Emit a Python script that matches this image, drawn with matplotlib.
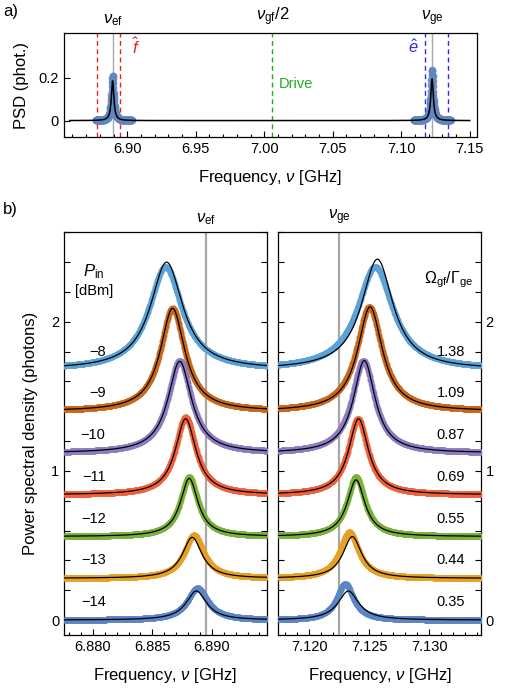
import numpy as np
import matplotlib
matplotlib.use("Agg")
import matplotlib.pyplot as plt
from matplotlib.ticker import MultipleLocator, FuncFormatter

plt.rcParams["font.family"] = ["Liberation Sans", "DejaVu Sans"]
plt.rcParams["mathtext.fontset"] = "custom"
plt.rcParams["mathtext.rm"] = "Liberation Sans"
plt.rcParams["mathtext.it"] = "Liberation Sans:italic"
plt.rcParams["mathtext.bf"] = "Liberation Sans:bold"
plt.rcParams["axes.linewidth"] = 0.9

# --- panel a) overview ---
nu_ef = 6.8895
nu_ge = 7.1225
nu_drive = 7.006
ef_window = [6.8776, 6.8946]
ge_window = [7.1174, 7.1343]
ov_centers = [6.8893, 7.1225]
ov_data_lo = [6.8771, 7.1092]
ov_data_hi = [6.9032, 7.1360]
ov_data_peak = [0.21, 0.238]
ov_fit_peak = [0.186, 0.195]
ov_fwhm = [0.0022, 0.0022]
ov_fit_range = [6.858, 7.150]

# --- panel b) power series ---
p_in = ["\u22128", "\u22129", "\u221210", "\u221211", "\u221212", "\u221213", "\u221214"]
omega_ratio = ["1.38", "1.09", "0.87", "0.69", "0.55", "0.44", "0.35"]
trace_offset = [1.68, 1.40, 1.12, 0.84, 0.56, 0.28, 0.0]
trace_colors = ["#5ba3d6", "#c8691a", "#8e7cc3", "#f0603a",
                "#7bb03a", "#e6a024", "#5b85c4"]

ef_fit_center = [6.8862, 6.8867, 6.8873, 6.8878, 6.8881, 6.88835, 6.8887]
ef_fit_height = [0.72, 0.69, 0.615, 0.51, 0.39, 0.275, 0.195]
ef_fit_fwhm = [0.0033, 0.0025, 0.0024, 0.0021, 0.0018, 0.0020, 0.0021]
ef_data_center = [6.8861, 6.8867, 6.8873, 6.8878, 6.8881, 6.8885, 6.8888]
ef_data_height = [0.69, 0.69, 0.62, 0.52, 0.40, 0.29, 0.215]
ef_data_fwhm = [0.0034, 0.0025, 0.0024, 0.0021, 0.0018, 0.0020, 0.0021]

ge_fit_center = [7.12567, 7.12506, 7.12458, 7.12410, 7.12389, 7.12358, 7.12325]
ge_fit_height = [0.74, 0.70, 0.62, 0.51, 0.38, 0.28, 0.195]
ge_fit_fwhm = [0.0032, 0.0025, 0.0022, 0.0020, 0.0018, 0.0019, 0.0021]
ge_data_center = [7.12548, 7.12500, 7.12450, 7.12405, 7.12389, 7.12333, 7.12298]
ge_data_height = [0.69, 0.70, 0.62, 0.51, 0.40, 0.31, 0.245]
ge_data_fwhm = [0.0036, 0.0026, 0.0023, 0.0020, 0.0018, 0.0019, 0.0017]


def lorentz(x, x0, fwhm, amp):
    hw = fwhm / 2
    return amp * hw**2 / ((x - x0)**2 + hw**2)


def style_ticks(ax):
    ax.tick_params(which="both", direction="in", labelsize=10.5, width=0.8)
    ax.tick_params(which="major", length=4)
    ax.tick_params(which="minor", length=2.5)


fig = plt.figure(figsize=(5.28, 6.90), dpi=100)

# ---------------- a) ----------------
ax = fig.add_axes([0.1206, 0.8014, 0.7833, 0.1507])
ax.set_xlim(6.8536, 7.1555)
ax.set_ylim(-0.077, 0.41)
for c, lo, hi, dp, fw in zip(ov_centers, ov_data_lo, ov_data_hi, ov_data_peak, ov_fwhm):
    xd = np.linspace(lo, hi, 160)
    ax.plot(xd, lorentz(xd, c, fw * 0.9, dp), "o", ms=5.5, color="#5f86be",
            mec="none", alpha=0.9, zorder=3)
xf = np.linspace(ov_fit_range[0], ov_fit_range[1], 4000)
yf = sum(lorentz(xf, c, fw, fp) for c, fw, fp in zip(ov_centers, ov_fwhm, ov_fit_peak))
ax.plot(xf, yf, color="black", lw=1.1, zorder=4)
ax.axvline(nu_ef, color="#a8a8a8", lw=1.0, zorder=1)
ax.axvline(nu_ge, color="#a8a8a8", lw=1.0, zorder=1)
for xv in ef_window:
    ax.axvline(xv, color="#e8231f", lw=1.0, ls=(0, (3.5, 2.5)), zorder=2)
for xv in ge_window:
    ax.axvline(xv, color="#2b2bf0", lw=1.0, ls=(0, (3.5, 2.5)), zorder=2)
ax.axvline(nu_drive, color="#1fae1f", lw=1.0, ls=(0, (3.5, 2.5)), zorder=2)

ax.text(6.9065, 0.345, r"$\hat{f}$", color="#e8231f", fontsize=12, ha="center", va="center")
ax.text(7.1090, 0.345, r"$\hat{e}$", color="#2b2bf0", fontsize=12, ha="center", va="center")
ax.text(nu_drive + 0.0045, 0.17, "Drive", color="#1fae1f", fontsize=10.5, ha="left", va="center")
ax.text(nu_ef, 1.05, r"$\nu_{\rm ef}$", transform=ax.get_xaxis_transform(),
        fontsize=12, ha="center", va="bottom")
ax.text(nu_drive, 1.05, r"$\nu_{\rm gf}/2$", transform=ax.get_xaxis_transform(),
        fontsize=12, ha="center", va="bottom")
ax.text(nu_ge, 1.05, r"$\nu_{\rm ge}$", transform=ax.get_xaxis_transform(),
        fontsize=12, ha="center", va="bottom")

ax.xaxis.set_major_locator(MultipleLocator(0.05))
ax.xaxis.set_minor_locator(MultipleLocator(0.01))
ax.xaxis.set_major_formatter(FuncFormatter(lambda v, p: f"{v:.2f}"))
ax.set_yticks([0, 0.2])
ax.set_yticklabels(["0", "0.2"])
style_ticks(ax)
ax.set_xlabel(r"Frequency, $\nu$ [GHz]", fontsize=12, labelpad=9)
ax.set_ylabel("PSD (phot.)", fontsize=12)
ax.yaxis.set_label_coords(-0.083, 0.5)

# ---------------- b) ----------------
axl = fig.add_axes([0.1218, 0.0797, 0.3830, 0.5836])
axr = fig.add_axes([0.5271, 0.0797, 0.3833, 0.5836])

panels = [
    (axl, ef_window, nu_ef, ef_data_center, ef_data_height, ef_data_fwhm,
     ef_fit_center, ef_fit_height, ef_fit_fwhm),
    (axr, ge_window, nu_ge, ge_data_center, ge_data_height, ge_data_fwhm,
     ge_fit_center, ge_fit_height, ge_fit_fwhm),
]
for (a, win, nu0, dc, dh, dw, fc, fh, fw) in panels:
    a.set_xlim(win[0], win[1])
    a.set_ylim(-0.1, 2.6)
    xd = np.linspace(win[0], win[1], 700)
    for i in range(len(trace_offset)):
        off = trace_offset[i]
        a.plot(xd, off + lorentz(xd, dc[i], dw[i], dh[i]), "o", ms=4.2,
               color=trace_colors[i], mec="none", alpha=0.9, zorder=3)
        a.plot(xd, off + lorentz(xd, fc[i], fw[i], fh[i]), color="black",
               lw=0.9, zorder=4)
    a.axvline(nu0, color="#a8a8a8", lw=1.6, zorder=2)
    a.xaxis.set_major_locator(MultipleLocator(0.005))
    a.xaxis.set_minor_locator(MultipleLocator(0.001))
    a.xaxis.set_major_formatter(FuncFormatter(lambda v, p: f"{v:.3f}"))
    a.yaxis.set_major_locator(MultipleLocator(0.2))
    a.yaxis.set_major_formatter(FuncFormatter(
        lambda v, p: f"{int(round(v))}" if abs(v - round(v)) < 1e-6 else ""))
    style_ticks(a)
    a.tick_params(axis="y", which="both", left=True, right=True)
    a.set_xlabel(r"Frequency, $\nu$ [GHz]", fontsize=12, labelpad=9)

axr.tick_params(axis="y", labelleft=False, labelright=True)
axl.set_ylabel("Power spectral density (photons)", fontsize=12)
axl.yaxis.set_label_coords(-0.13, 0.5)

axl.text(nu_ef, 1.012, r"$\nu_{\rm ef}$", transform=axl.get_xaxis_transform(),
         fontsize=12, ha="center", va="bottom")
axr.text(nu_ge, 1.012, r"$\nu_{\rm ge}$", transform=axr.get_xaxis_transform(),
         fontsize=12, ha="center", va="bottom")

for i in range(len(trace_offset)):
    axl.text(6.88107, trace_offset[i] + 0.12, p_in[i], fontsize=10.5,
             ha="right", va="center")
    axr.text(7.13298, trace_offset[i] + 0.12, omega_ratio[i], fontsize=10.5,
             ha="right", va="center")

axl.text(6.8801, 2.335, r"$P_{\rm in}$", fontsize=12, ha="center", va="center")
axl.text(6.8801, 2.205, "[dBm]", fontsize=10.5, ha="center", va="center")
axr.text(7.1316, 2.28, r"$\Omega_{\rm gf}/\Gamma_{\rm ge}$", fontsize=11.5,
         ha="center", va="center")

fig.text(0.006, 0.983, "a)", fontsize=12, ha="left", va="center")
fig.text(0.006, 0.696, "b)", fontsize=12, ha="left", va="center")

fig.savefig("out.png", dpi=100)
